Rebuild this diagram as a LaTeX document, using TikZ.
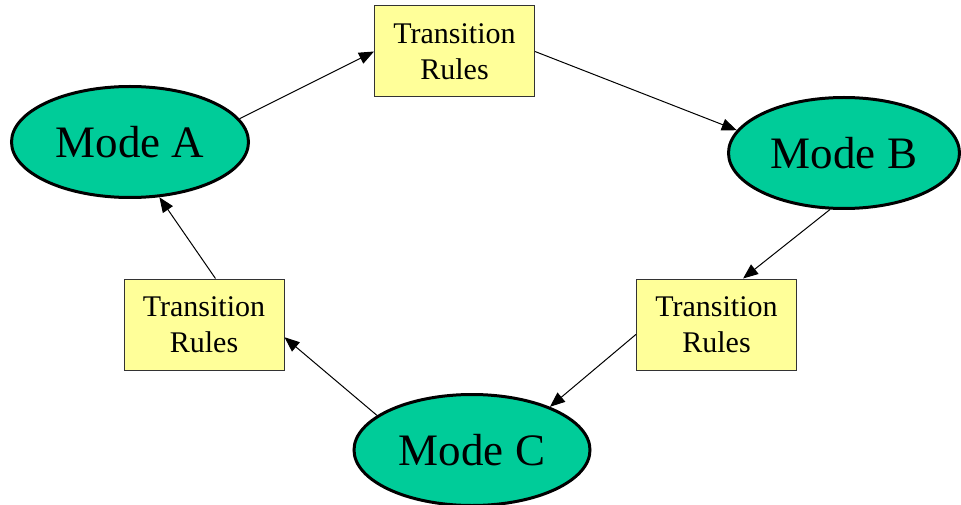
\documentclass[tikz,border=0pt]{standalone}
\usepackage{fontspec}
\setmainfont{Liberation Serif}
\usetikzlibrary{shapes.geometric,arrows.meta}
\definecolor{modegreen}{HTML}{00CC99}
\definecolor{ruleyellow}{HTML}{FFFF99}
\definecolor{boxedge}{HTML}{333333}
\begin{document}
\begin{tikzpicture}[x=1pt,y=-1pt,
  mode/.style={ellipse, draw=black, line width=3pt, fill=modegreen,
    minimum height=111pt, inner sep=0pt,
    font=\fontsize{45}{54}\selectfont},
  rules/.style={rectangle, draw=boxedge, line width=1pt, fill=ruleyellow,
    minimum width=160pt, minimum height=91pt, inner sep=0pt, align=center,
    font=\fontsize{30}{36}\selectfont},
  conn/.style={-{Triangle[length=15pt,width=12pt]}, line width=1pt, black}]
  \useasboundingbox (0,0) rectangle (961,505);

  % modes
  \node[mode, minimum width=237pt] (ma) at (130,142) {Mode A};
  \node[mode, minimum width=231pt] (mb) at (844,153) {Mode B};
  \node[mode, minimum width=236pt] (mc) at (472,450) {Mode C};

  % transition rule boxes
  \node[rules] (rt) at (454.5,51.5) {Transition\\Rules};
  \node[rules] (rr) at (716.5,324.5) {Transition\\Rules};
  \node[rules] (rl) at (204,324.5) {Transition\\Rules};

  % cycle A -> B -> C -> A
  \draw[conn] (ma.12) -- (rt.west);
  \draw[conn] (rt.east) -- (mb.168);
  \draw[conn] (mb.256) -- (rr.60);
  \draw[conn] (rr.187) -- (mc.29);
  \draw[conn] (mc.160) -- (rl.351);
  \draw[conn] (rl.76) -- (ma.298);
\end{tikzpicture}
\end{document}
